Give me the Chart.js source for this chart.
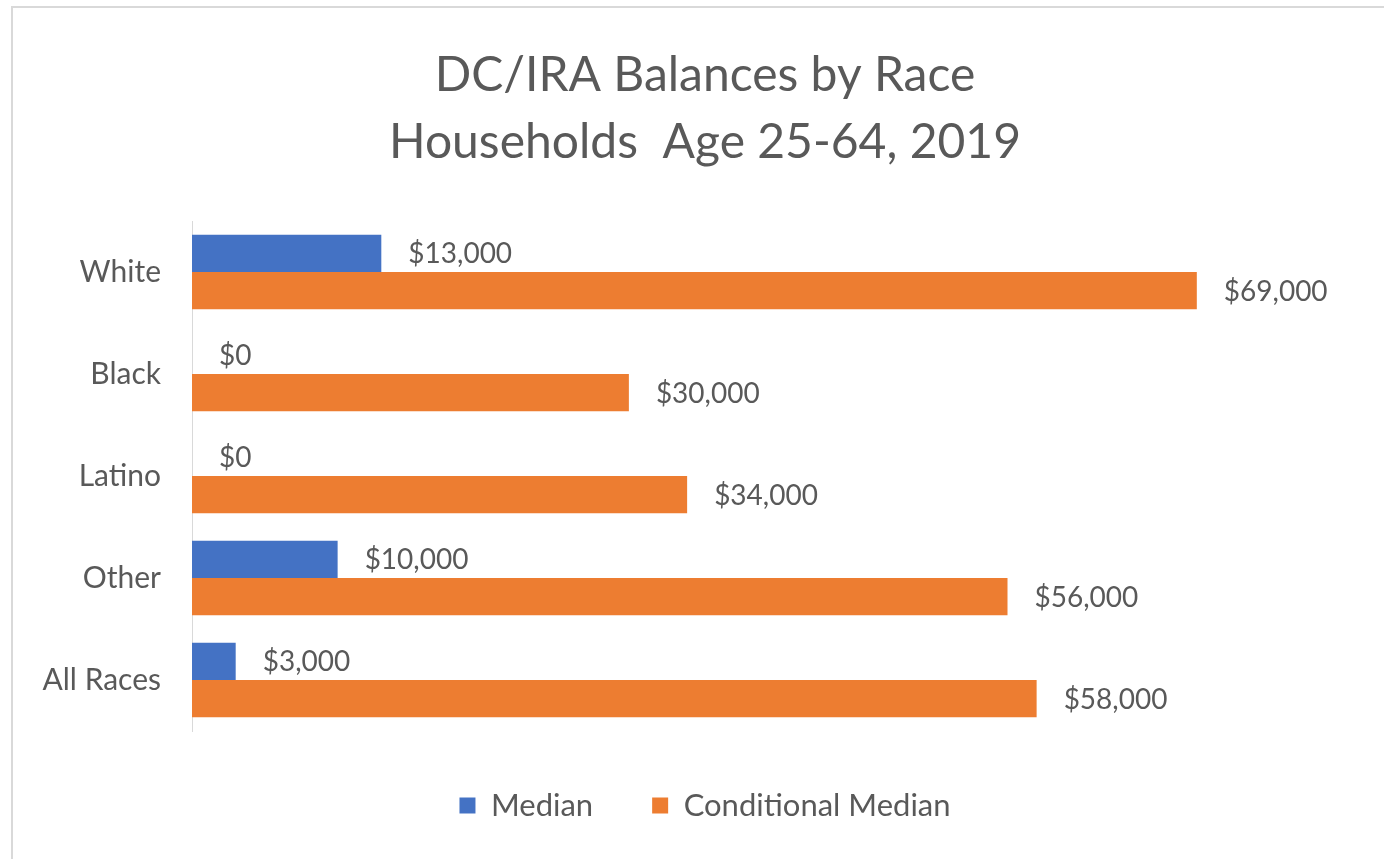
<!DOCTYPE html>
<html>
<head>
<meta charset="utf-8">
<script src="https://cdn.jsdelivr.net/npm/chart.js@4"></script>
<style>
  html, body { margin: 0; padding: 0; background: #fff; }
  #wrap { position: relative; width: 1384px; height: 859px; overflow: hidden; }
  #frame { position: absolute; left: 11px; top: 6px; width: 1390px; height: 870px;
           border: 2px solid #d9d9d9; pointer-events: none; }
</style>
</head>
<body>
<div id="wrap">
  <canvas id="dataChart" width="1384" height="859"></canvas>
  <div id="frame"></div>
</div>
<script>
const categories = ['White', 'Black', 'Latino', 'Other', 'All Races'];
const medianValues = [13000, 0, 0, 10000, 3000];
const conditionalValues = [69000, 30000, 34000, 56000, 58000];
const titleLines = ['DC/IRA Balances by Race', 'Households  Age 25-64, 2019'];

const textColor = '#595959';
const fontFamily = 'Lato, "Noto Sans", sans-serif';

function money(v) {
    return '$' + v.toLocaleString('en-US');
}

// labels at the end of each bar
const barLabels = {
    id: 'barLabels',
    afterDatasetsDraw(chart) {
        const ctx = chart.ctx;
        ctx.save();
        ctx.font = '28px ' + fontFamily;
        ctx.fillStyle = textColor;
        ctx.textAlign = 'left';
        ctx.textBaseline = 'middle';
        chart.data.datasets.forEach((ds, i) => {
            chart.getDatasetMeta(i).data.forEach((bar, j) => {
                ctx.fillText(money(ds.data[j]), bar.x + 27, bar.y + 1);
            });
        });
        ctx.restore();
    }
};

// title and legend are centred on the whole frame, not the canvas minus right padding
const centreBlocks = {
    id: 'centreBlocks',
    afterLayout(chart) {
        if (chart.titleBlock) chart.titleBlock.left = 53;
        if (chart.legend) chart.legend.left = 53;
    }
};

const ctx = document.getElementById('dataChart').getContext('2d');

new Chart(ctx, {
    type: 'bar',
    data: {
        labels: categories,
        datasets: [{
            label: 'Median',
            data: medianValues,
            backgroundColor: '#4472C4',
            borderWidth: 0
        }, {
            label: 'Conditional Median',
            data: conditionalValues,
            backgroundColor: '#ED7D31',
            borderWidth: 0
        }]
    },
    options: {
        indexAxis: 'y',
        responsive: false,
        animation: false,
        categoryPercentage: 0.73,
        barPercentage: 1.0,
        layout: {
            padding: { left: 0, right: 27, top: 0, bottom: 28 }
        },
        plugins: {
            title: {
                display: true,
                text: titleLines,
                color: textColor,
                font: { family: fontFamily, size: 48, weight: 'normal', lineHeight: 1.396 },
                padding: { top: 42, bottom: 45 }
            },
            legend: {
                position: 'bottom',
                labels: {
                    color: textColor,
                    font: { family: fontFamily, size: 31 },
                    boxWidth: 16,
                    boxHeight: 16,
                    padding: 59
                }
            },
            tooltip: { enabled: false }
        },
        scales: {
            x: {
                display: false,
                min: 0,
                max: 80000
            },
            y: {
                grid: { display: false },
                border: { display: true, color: '#d9d9d9', width: 1 },
                ticks: {
                    color: textColor,
                    font: { family: fontFamily, size: 30 },
                    padding: 23
                },
                afterFit(scale) {
                    scale.width = 192;
                }
            }
        }
    },
    plugins: [barLabels, centreBlocks]
});
</script>
</body>
</html>
